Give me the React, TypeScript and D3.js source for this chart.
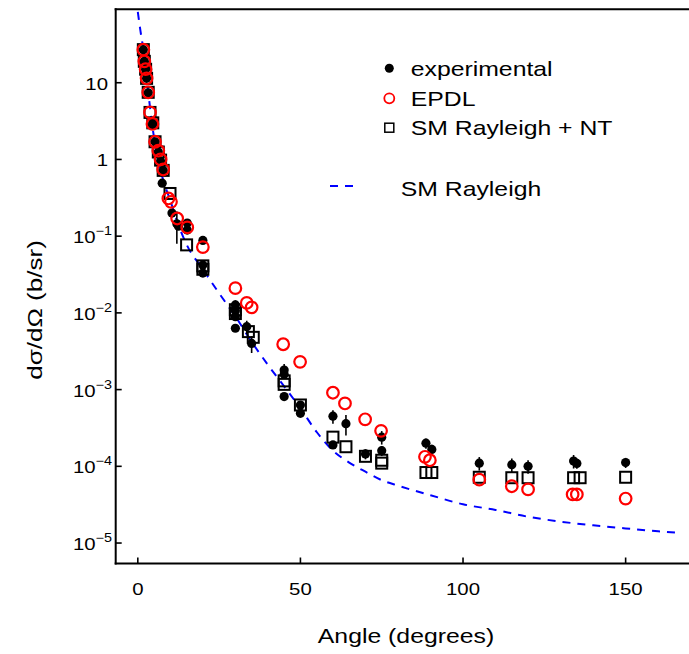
import React from 'react';
import * as d3 from 'd3';

const W = 689;
const H = 654;

// ---- Data ----
const xTicks = [0, 50, 100, 150];
const yTicks = [1e-5, 1e-4, 1e-3, 1e-2, 1e-1, 1, 10];
const yTickBase = ['10', '10', '10', '10', '10', '1', '10'];
const yTickExp = ['\u22125', '\u22124', '\u22123', '\u22122', '\u22121', '', ''];

// SM Rayleigh (dashed line)
const rayAngles = [0, 0.7, 1.7, 3.2, 5, 7.5, 10, 12, 15, 20, 25, 30, 35, 40, 45, 50, 55, 60, 65, 70, 75, 80, 90, 100, 110, 120, 130, 140, 150, 160, 167];
const rayValues = [84, 51, 27, 7.5, 1.9, 0.6, 0.29, 0.16, 0.078, 0.037, 0.018, 0.009, 0.0042, 0.0021, 0.0011, 0.00057, 0.00028, 0.00016, 0.000112, 0.000085, 0.000066, 0.000056, 0.000042, 0.000032, 0.000027, 0.000022, 0.000019, 0.000017, 0.0000155, 0.0000142, 0.0000135];

// experimental (filled dots with relative error)
const expAngles = [1.7, 2.0, 2.4, 2.7, 3.2, 4.5, 4.6, 5.3, 6.3, 7.0, 7.5, 7.8, 10.5, 12, 12.5, 15.2, 15.2, 20, 20, 20, 30, 30, 30, 30, 33.5, 35, 45, 45, 45, 50, 50, 60, 60, 64, 70, 75, 75, 88.6, 90.4, 105, 115, 120, 134, 135, 150];
const expValues = [27, 19, 15, 11.4, 7.4, 2.8, 3.0, 1.7, 1.25, 0.95, 0.49, 0.72, 0.2, 0.145, 0.135, 0.148, 0.12, 0.088, 0.042, 0.033, 0.0127, 0.0107, 0.0089, 0.0063, 0.0066, 0.004, 0.0018, 0.00158, 0.00081, 0.00063, 0.00049, 0.00045, 0.00019, 0.00036, 0.000145, 0.00024, 0.00016, 0.0002, 0.000166, 0.00011, 0.000105, 0.0001, 0.000117, 0.000109, 0.000112];
const expErr = [0.1, 0.1, 0.1, 0.1, 0.1, 0.1, 0.1, 0.1, 0.1, 0.1, 0.1, 0.1, 0.1, 0.45, 0.1, 0.1, 0.1, 0.1, 0.15, 0.1, 0.15, 0.1, 0.1, 0.1, 0.2, 0.25, 0.2, 0.1, 0.1, 0.1, 0.1, 0.2, 0.1, 0.3, 0.15, 0.2, 0.15, 0.15, 0.15, 0.2, 0.2, 0.2, 0.2, 0.15, 0.15];

// EPDL (open red circles)
const epdlAngles = [1.7, 2.0, 2.4, 2.7, 3.2, 3.75, 4.5, 5.3, 6.3, 7.0, 7.8, 9.4, 10.2, 12.1, 15.2, 20, 30, 33.5, 35, 44.7, 49.9, 60, 63.7, 69.9, 74.8, 88.3, 89.8, 105, 115, 120, 133.7, 135, 150];
const epdlValues = [27, 19, 15, 11.4, 7.5, 4.1, 2.9, 1.7, 1.3, 1.0, 0.74, 0.31, 0.28, 0.17, 0.13, 0.072, 0.021, 0.0135, 0.0118, 0.0039, 0.0023, 0.00091, 0.00066, 0.00041, 0.00029, 0.000133, 0.00012, 0.000067, 0.000055, 0.00005, 0.000043, 0.000043, 0.000038];

// SM Rayleigh + NT (open squares)
const smntAngles = [1.7, 2.0, 2.4, 2.7, 3.2, 3.75, 4.6, 5.3, 6.3, 7.0, 7.8, 9.9, 15, 20, 20, 30, 30, 34, 35.5, 45, 45, 50, 60, 64, 70, 75, 75, 88.6, 90.4, 105, 115, 120, 134, 136, 150];
const smntValues = [27, 19, 15, 11.4, 7.5, 4.1, 3.0, 1.7, 1.25, 0.98, 0.72, 0.36, 0.077, 0.037, 0.041, 0.0098, 0.011, 0.0057, 0.0048, 0.00117, 0.0013, 0.00063, 0.00024, 0.00018, 0.000135, 0.00012, 0.00011, 0.000083, 0.000083, 0.000072, 0.000071, 0.000071, 0.000071, 0.000071, 0.000072];

const FONT = '"Liberation Sans", Arial, Helvetica, sans-serif';

const left = 115.7;
const top = 9.3;
const right = 692.3;
const bottom = 563.5;

const x = d3.scaleLinear().domain([-6.8, 170.5]).range([left, right]);
const y = d3.scaleLog().domain([5.41e-6, 90.6]).range([bottom, top]);

function SText(props: any) {
  const { x: tx, y: ty, sx = 1.22, size = 20, anchor = 'start', rotate = 0, fill = '#000', children } = props;
  const tr = `translate(${tx},${ty})` + (rotate ? ` rotate(${rotate})` : '') + ` scale(${sx},1)`;
  return (
    <text transform={tr} fontSize={size} textAnchor={anchor} fill={fill} fontFamily={FONT}>
      {children}
    </text>
  );
}

export default function App() {
  const rayLine = d3
    .line<number>()
    .x((_, i) => x(rayAngles[i]))
    .y((d) => y(d))
    .curve(d3.curveMonotoneX)(rayValues) as string;

  const sq = 11;
  return (
    <svg width={W} height={H} style={{ position: 'absolute', left: 0, top: 0, background: '#fff' }}>
      <defs>
        <clipPath id="plotclip">
          <rect x={left} y={top} width={right - left} height={bottom - top} />
        </clipPath>
      </defs>
      <rect x={0} y={0} width={W} height={H} fill="#fff" />

      <g clipPath="url(#plotclip)">
        <path d={rayLine} fill="none" stroke="#0000ff" strokeWidth={2} strokeDasharray="8 7" />
        {smntAngles.map((a, i) => (
          <rect key={'s' + i} x={x(a) - sq / 2} y={y(smntValues[i]) - sq / 2} width={sq} height={sq}
            fill="none" stroke="#000" strokeWidth={2} />
        ))}
        {expAngles.map((a, i) => {
          const v = expValues[i];
          const e = expErr[i];
          return (
            <g key={'e' + i}>
              <line x1={x(a)} x2={x(a)} y1={y(v * (1 + e))} y2={y(Math.max(v * (1 - e), 1e-9))} stroke="#000" strokeWidth={1.6} />
              <circle cx={x(a)} cy={y(v)} r={4.6} fill="#000" />
            </g>
          );
        })}
        {epdlAngles.map((a, i) => (
          <circle key={'c' + i} cx={x(a)} cy={y(epdlValues[i])} r={5.8} fill="none" stroke="#ff0000" strokeWidth={2.2} />
        ))}
      </g>

      {/* frame */}
      <g stroke="#000" strokeWidth={2} fill="none">
        <line x1={left} x2={left} y1={top - 1} y2={bottom + 1} />
        <line x1={left - 1} x2={right} y1={top} y2={top} />
        <line x1={left - 1} x2={right} y1={bottom} y2={bottom} />
      </g>

      {/* x ticks */}
      {xTicks.map((t) => (
        <g key={'xt' + t}>
          <line x1={x(t)} x2={x(t)} y1={bottom} y2={bottom - 6} stroke="#000" strokeWidth={1.6} />
          <SText x={x(t)} y={595} size={17} sx={1.2} anchor="middle">{String(t)}</SText>
        </g>
      ))}

      {/* y ticks */}
      {yTicks.map((t, i) => (
        <g key={'yt' + i}>
          <line x1={left} x2={left + 6} y1={y(t)} y2={y(t)} stroke="#000" strokeWidth={1.6} />
          <SText x={yTickExp[i] ? 112 : 108} y={y(t) + 7} size={17} sx={1.2} anchor="end">
            <tspan>{yTickBase[i]}</tspan>
            {yTickExp[i] ? (
              <tspan dy={-8} fontSize={12}>{yTickExp[i]}</tspan>
            ) : null}
          </SText>
        </g>
      ))}

      {/* axis titles */}
      <SText x={406} y={643} size={20} sx={1.24} anchor="middle">Angle (degrees)</SText>
      <SText x={42} y={310} size={21} sx={1.24} anchor="middle" rotate={-90}>d{'\u03C3'}/d{'\u03A9'}  (b/sr)</SText>

      {/* legend */}
      <circle cx={389.3} cy={68.3} r={4.5} fill="#000" />
      <SText x={410.7} y={76} size={20} sx={1.24}>experimental</SText>
      <circle cx={389.3} cy={98.3} r={5} fill="none" stroke="#ff0000" strokeWidth={1.8} />
      <SText x={410.7} y={106} size={20} sx={1.24}>EPDL</SText>
      <rect x={389.3 - 4.5} y={127.7 - 4.5} width={9} height={9} fill="none" stroke="#000" strokeWidth={1.5} />
      <SText x={410.7} y={135} size={20} sx={1.24}>SM Rayleigh + NT</SText>
      <line x1={330} x2={356} y1={186} y2={186} stroke="#0000ff" strokeWidth={2} strokeDasharray="8 7" />
      <SText x={400.7} y={196} size={20} sx={1.24}>SM Rayleigh</SText>
    </svg>
  );
}
